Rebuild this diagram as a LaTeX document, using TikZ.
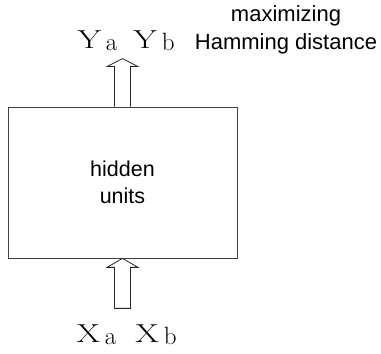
\documentclass[tikz,border=0pt]{standalone}
\usepackage{fontspec}
\usepackage{graphicx}
\setsansfont{Liberation Sans}
\usetikzlibrary{calc}

\newcommand{\widecap}[1]{\scalebox{1.3}[1]{#1}}
\newcommand{\lowsub}[1]{\kern5pt\raisebox{-2pt}{\fontsize{25}{25}\selectfont #1}}

\begin{document}
\begin{tikzpicture}[
    x=1pt, y=1pt,
    line width=0.8pt,
    layer/.style={
        draw=black!75,
        minimum width=229pt,
        minimum height=151pt,
        align=center,
        inner sep=0pt,
        font=\sffamily\fontsize{21.5}{27}\selectfont
    },
    var/.style={
        anchor=base,
        inner sep=0pt,
        font=\fontsize{26}{26}\selectfont
    },
    note/.style={
        anchor=base,
        align=center,
        inner sep=0pt,
        font=\sffamily\fontsize{22}{28}\selectfont
    },
    hollow/.style={
        draw=black!85,
        line width=0.8pt,
        line join=miter
    }
]
\useasboundingbox (0,0) rectangle (381,354);

% Hidden layer
\node[layer] (hid) at (122.5,171.5) {hidden\\units};

% Outputs
\node[var] (ya) at (97.5,305) {\widecap{Y}\lowsub{a}};
\node[var] (yb) at (154,305) {\widecap{Y}\lowsub{b}};
\node[note] (ham) at (286,304) {maximizing\\Hamming distance};

% Inputs
\node[var] (xa) at (96.5,11) {\widecap{X}\lowsub{a}};
\node[var] (xb) at (156,11) {\widecap{X}\lowsub{b}};

% Block arrows
\coordinate (up) at ($(hid.north)+(0,48)$);
\draw[hollow] ($(hid.north)+(-8,0)$) -- ++(0,40) -- ++(-7.5,0) -- (up)
    -- ($(hid.north)+(15.5,40)$) -- ++(-7.5,0) -- ($(hid.north)+(8,0)$);

\coordinate (in) at ($(hid.south)+(0,-50)$);
\draw[hollow] ($(in)+(-8,0)$) -- ++(0,41) -- ++(-7.5,0) -- (hid.south)
    -- ($(in)+(15.5,41)$) -- ++(-7.5,0) -- ($(in)+(8,0)$) -- cycle;

\end{tikzpicture}
\end{document}
